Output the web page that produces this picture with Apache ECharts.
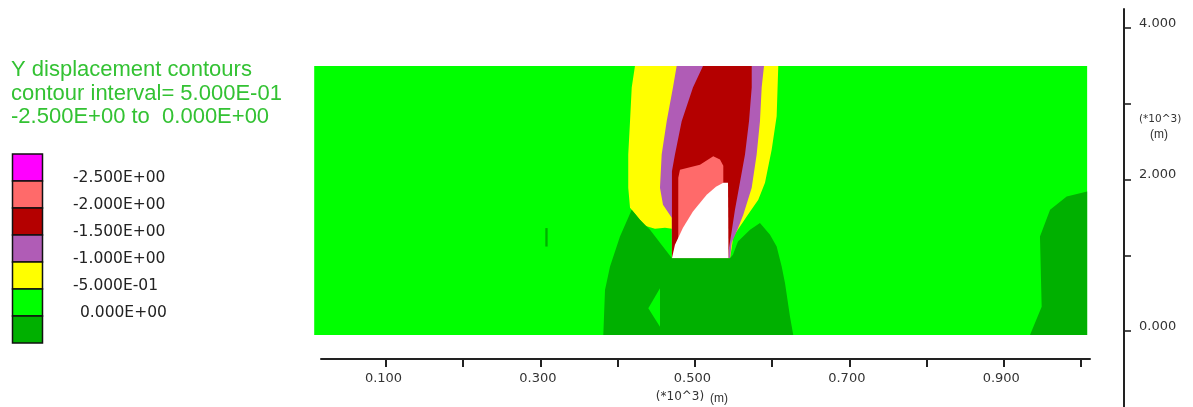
<!DOCTYPE html>
<html>
<head>
<meta charset="utf-8">
<script src="https://cdn.jsdelivr.net/npm/echarts@6/dist/echarts.min.js"></script>
<style>
  html, body { margin: 0; padding: 0; background: #ffffff; }
  #chart { width: 1193px; height: 407px; }
</style>
</head>
<body>
<div id="chart"></div>
<script>
// ---- Contour levels of Y displacement and the colour of each band ----
// band 0: below -2.5, band k: levels[k-1]..levels[k], band 6: above 0
const levels = [-2.5, -2.0, -1.5, -1.0, -0.5, 0.0];
const bandColors = ['#ff00ff', '#ff6a6a', '#b40000', '#b05cb6', '#ffff00', '#00ff00', '#00b000'];
const cavityColor = '#ffffff';

// ---- Axis ticks (x10^3 m) ----
const xTicks = [0.1, 0.2, 0.3, 0.4, 0.5, 0.6, 0.7, 0.8, 0.9, 1.0];
const xTickLabels = [0.1, 0.3, 0.5, 0.7, 0.9];
const yTicks = [0, 1, 2, 3, 4];
const yTickLabels = [0, 2, 4];

// ---- Model extent (x10^3 m) ----
const domainX = [0.007, 1.008];
const domainY = [0, 3.5];

// ---- Contour band outlines, [x, y] in x10^3 m ----
const yellowBand = [
  [0.4224, 3.5], [0.4182, 3.220], [0.4160, 2.781], [0.4137, 2.347], [0.4137, 1.917],
  [0.4160, 1.656], [0.4354, 1.421], [0.4483, 1.382], [0.4613, 1.395], [0.4703, 1.382],
  [0.4703, 1.0], [0.5455, 1.0], [0.5477, 1.134], [0.5497, 1.282], [0.5584, 1.412],
  [0.5671, 1.542], [0.5821, 1.760], [0.5908, 1.982], [0.5995, 2.412], [0.6059, 2.846],
  [0.6080, 3.5]
];
const purpleBand = [
  [0.4764, 3.5], [0.4716, 3.220], [0.4635, 2.781], [0.4570, 2.347], [0.4548, 1.917],
  [0.4587, 1.695], [0.4700, 1.525], [0.4703, 1.0], [0.5455, 1.0], [0.5477, 1.199],
  [0.5541, 1.347], [0.5627, 1.565], [0.5736, 1.917], [0.5800, 2.347], [0.5843, 2.781],
  [0.5865, 3.220], [0.5895, 3.5]
];
const redBand = [
  [0.5105, 3.5], [0.4975, 3.220], [0.4829, 2.781], [0.4742, 2.347], [0.4703, 2.129],
  [0.4703, 1.0], [0.5433, 1.0], [0.5442, 1.134], [0.5474, 1.330], [0.5519, 1.630],
  [0.5571, 1.917], [0.5649, 2.347], [0.5701, 2.781], [0.5736, 3.220], [0.5736, 3.5]
];
const salmonBand = [
  [0.4785, 1.0], [0.4785, 2.047], [0.4807, 2.151], [0.5066, 2.216], [0.5238, 2.325],
  [0.5325, 2.282], [0.5368, 2.203], [0.5368, 1.0]
];
const cavity = [
  [0.4703, 1.0], [0.4742, 1.173], [0.4846, 1.395], [0.4975, 1.608], [0.5153, 1.825],
  [0.5273, 1.930], [0.5368, 1.982], [0.5429, 1.982], [0.5435, 1.0]
];
const upliftCentre = [
  [0.3814, 0], [0.3836, 0.587], [0.3901, 0.890], [0.4030, 1.282], [0.4182, 1.630],
  [0.4289, 1.499], [0.4419, 1.369], [0.4548, 1.199], [0.4678, 1.030], [0.4703, 1.0],
  [0.5455, 1.0], [0.5493, 1.043], [0.5558, 1.216], [0.5714, 1.369], [0.5843, 1.456],
  [0.5973, 1.304], [0.6059, 1.151], [0.6124, 0.890], [0.6167, 0.678], [0.6232, 0.239],
  [0.6274, 0]
];
const pocketCentre = [[0.4548, 0.609], [0.4397, 0.348], [0.4548, 0.108]];
const upliftRight = [
  [0.9340, 0], [0.9491, 0.369], [0.9469, 1.282], [0.9600, 1.630], [0.9815, 1.803],
  [1.008, 1.868], [1.008, 0]
];
const spotLeft = [[0.3063, 1.391], [0.3093, 1.391], [0.3093, 1.151], [0.3063, 1.151]];

const modelOutline = [
  [domainX[0], domainY[0]], [domainX[1], domainY[0]],
  [domainX[1], domainY[1]], [domainX[0], domainY[1]]
];

// drawing order: later regions are painted over earlier ones
const regions = [
  { band: 5, pts: modelOutline },
  { band: 4, pts: yellowBand },
  { band: 3, pts: purpleBand },
  { band: 2, pts: redBand },
  { band: 1, pts: salmonBand },
  { band: -1, pts: cavity },
  { band: 6, pts: upliftCentre },
  { band: 5, pts: pocketCentre },
  { band: 6, pts: upliftRight },
  { band: 6, pts: spotLeft }
];

// -2.5 -> "-2.500E+00"
function fmtE(v) {
  const s = v.toExponential(3);
  const parts = s.split('e');
  const exp = parseInt(parts[1], 10);
  const expStr = (exp < 0 ? '-' : '+') + String(Math.abs(exp)).padStart(2, '0');
  return parts[0].toUpperCase() + 'E' + expStr;
}

const titleGreen = '#33c233';
const axisDark = '#222222';
const labelGrey = '#333333';

// legend column
const legendTop = 154, boxH = 27;
const legendGraphics = [];
bandColors.forEach(function (c, i) {
  legendGraphics.push({
    type: 'rect',
    shape: { x: 12.5, y: legendTop + i * boxH, width: 30, height: boxH },
    style: { fill: c, stroke: '#111', lineWidth: 1.5 }
  });
});
levels.forEach(function (v, i) {
  legendGraphics.push({
    type: 'text',
    x: v < 0 ? 73 : 80,
    y: legendTop + (i + 1) * boxH - 3.5,
    style: {
      text: fmtE(v),
      font: '15.5px "DejaVu Sans"',
      fill: '#222',
      textAlign: 'left',
      textVerticalAlign: 'middle'
    }
  });
});

const interval = levels[1] - levels[0];
const titleLines = [
  'Y displacement contours',
  'contour interval= ' + fmtE(interval),
  fmtE(levels[0]) + ' to  ' + fmtE(levels[levels.length - 1])
];
titleLines.forEach(function (t, i) {
  legendGraphics.push({
    type: 'text',
    x: 11,
    y: 70 + i * 23.6,
    style: {
      text: t,
      font: '22px "Liberation Sans", Arial, sans-serif',
      fill: titleGreen,
      textAlign: 'left',
      textVerticalAlign: 'middle'
    }
  });
});

// axis unit captions
legendGraphics.push(
  { type: 'text', x: 680, y: 397, style: { text: '(*10^3)', font: '12px "DejaVu Sans"', fill: labelGrey, textAlign: 'center', textVerticalAlign: 'middle' } },
  { type: 'text', x: 710, y: 399, style: { text: '(m)', font: '12px "Liberation Sans", Arial', fill: '#333', textAlign: 'left', textVerticalAlign: 'middle' } },
  { type: 'text', x: 1139, y: 119, style: { text: '(*10^3)', font: '10.5px "DejaVu Sans"', fill: labelGrey, textAlign: 'left', textVerticalAlign: 'middle' } },
  { type: 'text', x: 1159, y: 135, style: { text: '(m)', font: '12px "Liberation Sans", Arial', fill: '#333', textAlign: 'center', textVerticalAlign: 'middle' } }
);

const chart = echarts.init(document.getElementById('chart'), null, { renderer: 'canvas' });

chart.setOption({
  animation: false,
  backgroundColor: '#ffffff',
  grid: [
    { left: 321, width: 769, top: 66, height: 269 },
    { left: 1100, width: 24, top: 9, height: 402.7 }
  ],
  xAxis: [
    {
      gridIndex: 0,
      type: 'value',
      min: 0.0158,
      max: 1.0117,
      position: 'bottom',
      offset: 24,
      splitLine: { show: false },
      axisLine: { show: true, onZero: false, lineStyle: { color: axisDark, width: 2 } },
      axisTick: { show: true, customValues: xTicks, length: 8, lineStyle: { color: axisDark, width: 2 } },
      axisLabel: {
        show: true,
        customValues: xTickLabels,
        margin: 13,
        padding: [0, 5, 0, 0],
        color: labelGrey,
        fontFamily: 'DejaVu Sans',
        fontSize: 13,
        formatter: function (v) { return v.toFixed(3); }
      }
    },
    { gridIndex: 1, type: 'value', min: 0, max: 1, show: false }
  ],
  yAxis: [
    { gridIndex: 0, type: 'value', min: domainY[0], max: domainY[1], show: false },
    {
      gridIndex: 1,
      type: 'value',
      min: -1,
      max: 4.25,
      position: 'right',
      splitLine: { show: false },
      axisLine: { show: true, onZero: false, lineStyle: { color: axisDark, width: 2 } },
      axisTick: { show: true, customValues: yTicks, length: 7, lineStyle: { color: axisDark, width: 1.6 } },
      axisLabel: {
        show: true,
        customValues: yTickLabels,
        margin: 15,
        color: labelGrey,
        fontFamily: 'DejaVu Sans',
        fontSize: 13,
        verticalAlign: 'bottom',
        lineHeight: 9,
        formatter: function (v) { return v.toFixed(3); }
      }
    }
  ],
  series: [
    {
      type: 'custom',
      coordinateSystem: 'cartesian2d',
      xAxisIndex: 0,
      yAxisIndex: 0,
      clip: false,
      silent: true,
      data: regions.map(function (r) { return r.pts[0]; }),
      renderItem: function (params, api) {
        const r = regions[params.dataIndex];
        const pts = r.pts.map(function (p) { return api.coord(p); });
        return {
          type: 'polygon',
          z2: params.dataIndex,
          shape: { points: pts },
          style: { fill: r.band < 0 ? cavityColor : bandColors[r.band], stroke: null }
        };
      }
    }
  ],
  graphic: { elements: legendGraphics }
});
</script>
</body>
</html>
